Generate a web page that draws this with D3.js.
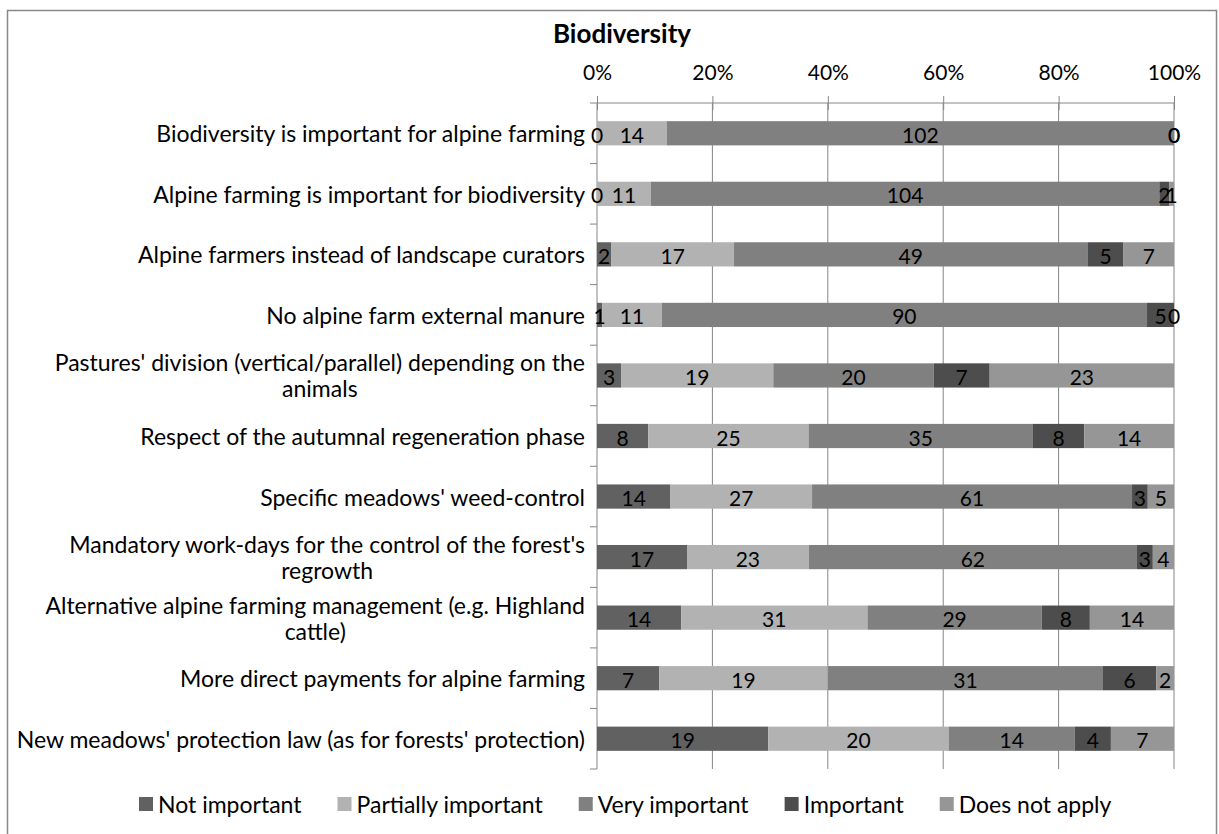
<!DOCTYPE html>
<html>
<head>
<meta charset="utf-8">
<script src="https://cdn.jsdelivr.net/npm/d3@7"></script>
<style>
  html, body { margin: 0; padding: 0; background: #fff; }
  svg { display: block; font-family: Lato, "Open Sans", sans-serif; }
</style>
</head>
<body>
<script>
// chart data
const categories = [
  ["Biodiversity is important for alpine farming"],
  ["Alpine farming is important for biodiversity"],
  ["Alpine farmers instead of landscape curators"],
  ["No alpine farm external manure"],
  ["Pastures' division (vertical/parallel) depending on the", "animals"],
  ["Respect of the autumnal regeneration phase"],
  ["Specific meadows' weed-control"],
  ["Mandatory work-days for the control of the forest's", "regrowth"],
  ["Alternative alpine farming management (e.g. Highland", "cattle)"],
  ["More direct payments for alpine farming"],
  ["New meadows' protection law (as for forests' protection)"]
];
const seriesNames = ["Not important", "Partially important", "Very important", "Important", "Does not apply"];
const notImportant = [0, 0, 2, 1, 3, 8, 14, 17, 14, 7, 19];
const partiallyImportant = [14, 11, 17, 11, 19, 25, 27, 23, 31, 19, 20];
const veryImportant = [102, 104, 49, 90, 20, 35, 61, 62, 29, 31, 14];
const important = [0, 2, 5, 5, 7, 8, 3, 3, 8, 6, 4];
const doesNotApply = [0, 1, 7, 0, 23, 14, 5, 4, 14, 2, 7];
const tickValues = [0, 0.2, 0.4, 0.6, 0.8, 1];
const colors = ["#616161", "#b2b2b2", "#808080", "#4d4d4d", "#969696"];

const W = 1219, H = 834;
const plotLeft = 597, plotRight = 1174, plotTop = 103, plotBottom = 769;

const rows = categories.map((c, i) => ({
  idx: i,
  "Not important": notImportant[i],
  "Partially important": partiallyImportant[i],
  "Very important": veryImportant[i],
  "Important": important[i],
  "Does not apply": doesNotApply[i]
}));

const stacked = d3.stack().keys(seriesNames).offset(d3.stackOffsetExpand)(rows);

const x = d3.scaleLinear().domain([0, 1]).range([plotLeft, plotRight]);
const y = d3.scaleBand().domain(d3.range(categories.length)).range([plotTop, plotBottom]).paddingInner(0.6).paddingOuter(0.3);

const svg = d3.select("body").append("svg").attr("width", W).attr("height", H);

// outer frame
svg.append("rect")
  .attr("x", 7.5).attr("y", 10.5).attr("width", 1209).attr("height", 840)
  .attr("fill", "none").attr("stroke", "#888").attr("stroke-width", 1.5);

svg.append("text")
  .attr("x", 622).attr("y", 33)
  .attr("text-anchor", "middle").attr("dominant-baseline", "central")
  .attr("font-size", 26).attr("font-weight", "bold")
  .text("Biodiversity");

// gridlines
svg.append("g").selectAll("line").data(tickValues.slice(1)).join("line")
  .attr("x1", d => x(d)).attr("x2", d => x(d))
  .attr("y1", plotTop).attr("y2", plotBottom)
  .attr("stroke", "#868686");

// top axis
const xAxis = svg.append("g").attr("transform", `translate(0,${plotTop})`)
  .call(d3.axisTop(x).tickValues(tickValues).tickFormat(d3.format(".0%")).tickSize(7).tickPadding(16));
xAxis.select(".domain").attr("stroke", "#868686").attr("d", `M${plotLeft},0H${plotRight}`);
xAxis.selectAll(".tick line").attr("stroke", "#868686").attr("y2", 7).attr("y1", -7);
xAxis.selectAll(".tick text").attr("font-size", 21).attr("fill", "#000").attr("font-family", "Lato, sans-serif");

// left axis line and band ticks
const step = (plotBottom - plotTop) / categories.length;
svg.append("line").attr("x1", plotLeft).attr("x2", plotLeft).attr("y1", plotTop).attr("y2", plotBottom).attr("stroke", "#868686");
svg.append("g").selectAll("line").data(d3.range(categories.length + 1)).join("line")
  .attr("x1", plotLeft - 7).attr("x2", plotLeft)
  .attr("y1", d => plotTop + d * step).attr("y2", d => plotTop + d * step)
  .attr("stroke", "#868686");

// bars
const series = svg.append("g").selectAll("g").data(stacked).join("g")
  .attr("fill", (d, i) => colors[i]);
series.selectAll("rect").data(d => d).join("rect")
  .attr("x", d => x(d[0]))
  .attr("width", d => x(d[1]) - x(d[0]))
  .attr("y", d => y(d.data.idx))
  .attr("height", y.bandwidth());

// value labels
const labels = svg.append("g").attr("font-size", 21).attr("text-anchor", "middle").attr("dominant-baseline", "central");
stacked.forEach(s => {
  labels.selectAll(null).data(s).join("text")
    .attr("x", d => (x(d[0]) + x(d[1])) / 2)
    .attr("y", d => y(d.data.idx) + y.bandwidth() / 2 + 1)
    .text(d => d.data[s.key]);
});

// category labels
const cat = svg.append("g").attr("font-size", 23);
categories.forEach((lines, i) => {
  const cy = plotTop + (i + 0.5) * step;
  const lh = 26;
  const t = cat.append("text").attr("dominant-baseline", "central");
  const first = t.append("tspan").attr("x", 585).attr("y", cy - (lines.length - 1) * lh / 2)
    .attr("text-anchor", "end").text(lines[0]);
  if (lines.length > 1) {
    const w = first.node().getComputedTextLength();
    t.append("tspan").attr("x", 585 - w / 2).attr("y", cy + lh / 2)
      .attr("text-anchor", "middle").text(lines[1]);
  }
});

// legend
const legend = svg.append("g").attr("font-size", 23);
let lx = 139;
seriesNames.forEach((name, i) => {
  legend.append("rect").attr("x", lx).attr("y", 797).attr("width", 14).attr("height", 14).attr("fill", colors[i]);
  const t = legend.append("text").attr("x", lx + 19).attr("y", 804).attr("dominant-baseline", "central").text(name);
  lx += 19 + t.node().getComputedTextLength() + 36;
});
</script>
</body>
</html>
